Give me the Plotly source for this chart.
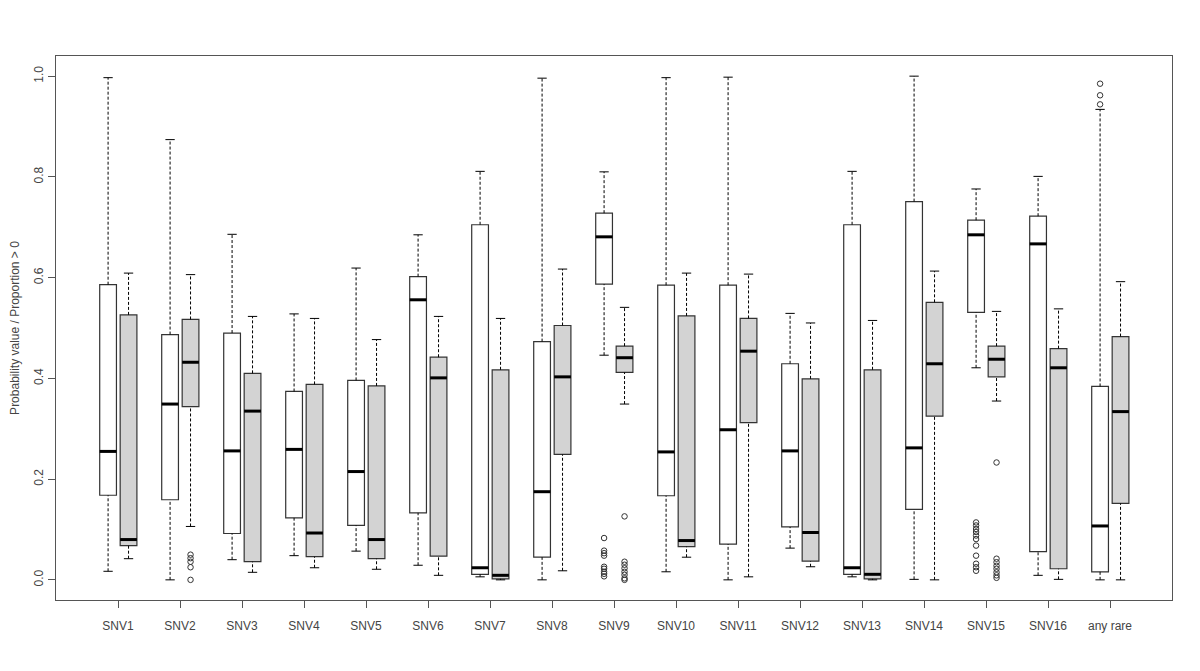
import plotly.graph_objects as go

# Categories (x axis)
categories = ["SNV1", "SNV2", "SNV3", "SNV4", "SNV5", "SNV6", "SNV7", "SNV8", "SNV9",
              "SNV10", "SNV11", "SNV12", "SNV13", "SNV14", "SNV15", "SNV16", "any rare"]

# White boxes: whisker ends, quartiles and medians
white_lower = [0.017, 0.000, 0.040, 0.048, 0.057, 0.029, 0.006, 0.000, 0.446, 0.016, 0.000, 0.063, 0.006, 0.001, 0.421, 0.009, 0.000]
white_q1 = [0.168, 0.159, 0.092, 0.123, 0.108, 0.133, 0.011, 0.045, 0.587, 0.167, 0.071, 0.105, 0.011, 0.140, 0.531, 0.056, 0.016]
white_med = [0.255, 0.349, 0.256, 0.259, 0.215, 0.556, 0.024, 0.175, 0.681, 0.254, 0.298, 0.256, 0.024, 0.262, 0.685, 0.667, 0.107]
white_q3 = [0.586, 0.487, 0.490, 0.374, 0.396, 0.602, 0.705, 0.473, 0.728, 0.585, 0.585, 0.429, 0.705, 0.751, 0.714, 0.722, 0.384]
white_upper = [0.997, 0.874, 0.686, 0.528, 0.619, 0.685, 0.811, 0.996, 0.810, 0.997, 0.998, 0.529, 0.811, 1.000, 0.776, 0.801, 0.934]

# Grey boxes
grey_lower = [0.042, 0.106, 0.015, 0.024, 0.021, 0.009, 0.000, 0.018, 0.349, 0.045, 0.006, 0.026, 0.000, 0.000, 0.355, 0.001, 0.000]
grey_q1 = [0.068, 0.344, 0.036, 0.046, 0.042, 0.047, 0.002, 0.249, 0.412, 0.066, 0.312, 0.037, 0.002, 0.325, 0.403, 0.022, 0.152]
grey_med = [0.080, 0.432, 0.335, 0.093, 0.080, 0.401, 0.009, 0.403, 0.441, 0.078, 0.454, 0.094, 0.011, 0.429, 0.438, 0.421, 0.334]
grey_q3 = [0.526, 0.517, 0.410, 0.388, 0.385, 0.442, 0.417, 0.505, 0.464, 0.524, 0.519, 0.399, 0.417, 0.551, 0.464, 0.459, 0.483]
grey_upper = [0.609, 0.606, 0.523, 0.519, 0.477, 0.523, 0.519, 0.617, 0.541, 0.609, 0.607, 0.510, 0.515, 0.613, 0.533, 0.538, 0.592]

# Outliers (open circles)
white_outliers = {
    "SNV9": [0.083, 0.058, 0.053, 0.048, 0.026, 0.022, 0.016, 0.012, 0.007],
    "SNV15": [0.114, 0.108, 0.101, 0.095, 0.088, 0.081, 0.068, 0.048, 0.032, 0.025, 0.018],
    "any rare": [0.985, 0.962, 0.944],
}
grey_outliers = {
    "SNV2": [0.050, 0.043, 0.036, 0.025, 0.000],
    "SNV9": [0.126, 0.036, 0.030, 0.023, 0.016, 0.010, 0.003, 0.000],
    "SNV15": [0.233, 0.042, 0.035, 0.028, 0.022, 0.015, 0.009, 0.004],
}

# style
BOX_W = 0.27
CAP = 0.075
OFFSET_W = -0.16
OFFSET_G = 0.17
EDGE = "#333333"
FONT = "Liberation Sans, Arial, sans-serif"

tick_pos = list(range(1, len(categories) + 1))
pos_w = [p + OFFSET_W for p in tick_pos]
pos_g = [p + OFFSET_G for p in tick_pos]

fig = go.Figure()


def add_group(pos, lower, q1, med, q3, upper, outliers, fill):
    # dashed whiskers
    wx, wy = [], []
    cx, cy = [], []
    for p, lo, a, b, hi in zip(pos, lower, q1, q3, upper):
        wx += [p, p, None, p, p, None]
        wy += [lo, a, None, b, hi, None]
        cx += [p - CAP, p + CAP, None, p - CAP, p + CAP, None]
        cy += [lo, lo, None, hi, hi, None]
    fig.add_trace(go.Scatter(x=wx, y=wy, mode="lines",
                             line=dict(color="black", width=1, dash="3px,2px"),
                             hoverinfo="skip", showlegend=False))
    fig.add_trace(go.Scatter(x=cx, y=cy, mode="lines",
                             line=dict(color="black", width=1),
                             hoverinfo="skip", showlegend=False))
    # boxes (fences at quartiles, whiskers drawn separately)
    fig.add_trace(go.Box(x=pos, q1=q1, median=med, q3=q3,
                         lowerfence=q1, upperfence=q3,
                         width=BOX_W, fillcolor=fill, whiskerwidth=0,
                         line=dict(color=EDGE, width=1.2),
                         boxpoints=False, showlegend=False))
    # thick medians
    mx, my = [], []
    for p, m in zip(pos, med):
        mx += [p - BOX_W / 2, p + BOX_W / 2, None]
        my += [m, m, None]
    fig.add_trace(go.Scatter(x=mx, y=my, mode="lines",
                             line=dict(color="black", width=3),
                             hoverinfo="skip", showlegend=False))
    # outliers
    ox, oy = [], []
    for p, cat in zip(pos, categories):
        for v in outliers.get(cat, []):
            ox.append(p)
            oy.append(v)
    fig.add_trace(go.Scatter(x=ox, y=oy, mode="markers",
                             marker=dict(symbol="circle-open", size=5.5,
                                         color=EDGE, line=dict(width=1)),
                             hoverinfo="skip", showlegend=False))


add_group(pos_w, white_lower, white_q1, white_med, white_q3, white_upper, white_outliers, "white")
add_group(pos_g, grey_lower, grey_q1, grey_med, grey_q3, grey_upper, grey_outliers, "#d3d3d3")

# page body has an 8px margin, so the figure is sized to fit inside it
fig.update_layout(
    width=1192, height=663,
    margin=dict(l=48, r=28, t=48, b=71),
    paper_bgcolor="white", plot_bgcolor="white",
    boxmode="overlay",
    font=dict(family=FONT, size=12, color="#444444"),
)
fig.update_xaxes(
    range=[0, 18], tickvals=tick_pos, ticktext=categories,
    showgrid=False, zeroline=False, showline=True, mirror=True,
    linecolor="#555555", linewidth=1,
    ticks="outside", ticklen=7, tickcolor="#555555",
    ticklabelstandoff=8,
    tickfont=dict(size=12, color="#444444"),
)
fig.update_yaxes(
    range=[-0.04, 1.04], tickvals=[0, 0.2, 0.4, 0.6, 0.8, 1.0], tickformat=".1f",
    tickangle=-90, automargin=False,
    showgrid=False, zeroline=False, showline=True, mirror=True,
    linecolor="#555555", linewidth=1,
    ticks="outside", ticklen=7, tickcolor="#555555",
    tickfont=dict(size=12, color="#444444"),
    title=dict(text="Probability value / Proportion > 0", standoff=18,
               font=dict(size=12, color="#444444")),
)

fig.write_html("out.html")
